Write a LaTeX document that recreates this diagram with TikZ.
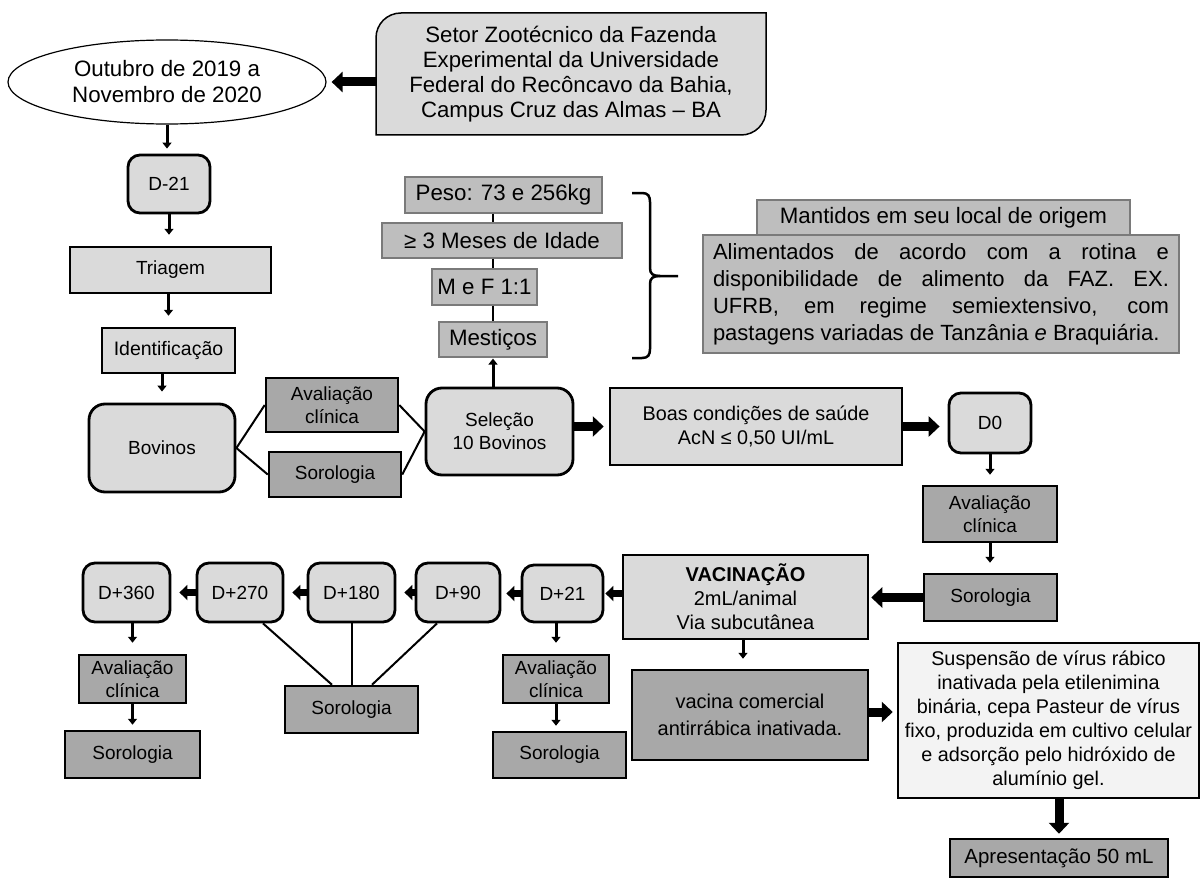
\documentclass[tikz,border=0pt]{standalone}
\usepackage{fontspec}
\setmainfont{Liberation Sans}
\usetikzlibrary{arrows.meta,shapes.geometric,calc}
\definecolor{lg}{HTML}{DADADA}
\definecolor{dg}{HTML}{A8A8A8}
\definecolor{mg}{HTML}{BEBEBE}
\definecolor{vl}{HTML}{F3F3F3}
\definecolor{gbord}{HTML}{7A7A7A}
\newcommand\fsN{\fontsize{19}{23}\selectfont}
\newcommand\fsL{\fontsize{22.3}{26}\selectfont}
\newcommand\fsXL{\fontsize{22}{27}\selectfont}
\begin{document}
\begin{tikzpicture}[x=1pt,y=-1pt,
 every node/.style={inner sep=0pt, align=center},
 bx/.style={draw=black, line width=2.5pt, font=\fsN},
 lbox/.style={bx, fill=lg},
 dbox/.style={bx, fill=dg},
 rbox/.style={bx, fill=lg, rounded corners=12pt, line width=2.8pt},
 gbox/.style={draw=gbord, line width=1.2pt, fill=mg, font=\fsL},
 thinarr/.style={line width=3pt, -{Triangle[width=9pt,length=6pt]}},
 midarr/.style={line width=7pt, -{Triangle[width=15pt,length=8pt]}},
 bigarr/.style={line width=9pt, -{Triangle[width=20pt,length=11pt]}},
 link/.style={line width=2pt},
]
\useasboundingbox (0,0) rectangle (1202,880);
\fill[white] (0,0) rectangle (1202,880);

% top
\node[ellipse, draw, line width=1.2pt, fill=white, minimum width=318pt, minimum height=84pt, font=\fsL] (ell) at (167,82) {Outubro de 2019 a\\Novembro de 2020};
\draw[line width=1.5pt, fill=lg] (376,38) .. controls (376,24) and (387,13) .. (401,13) -- (766,13) -- (766,110) .. controls (766,124) and (755,135) .. (741,135) -- (376,135) -- cycle;
\node[minimum width=390pt, minimum height=122pt, font=\fontsize{22.2}{25}\selectfont] (setor) at (571,74) {Setor Zootécnico da Fazenda\\Experimental da Universidade\\Federal do Recôncavo da Bahia,\\Campus Cruz das Almas -- BA};

% left column
\node[rbox, minimum width=82pt, minimum height=58pt] (d21) at (169,184) {D-21};
\node[lbox, minimum width=201pt, minimum height=46pt] (tri) at (170.5,270) {Triagem};
\node[lbox, font=\fontsize{19.5}{23}\selectfont, minimum width=133pt, minimum height=45pt] (ide) at (168.5,350.5) {Identificação};
\node[rbox, rounded corners=16pt, minimum width=146pt, minimum height=88pt] (bov) at (162,448) {Bovinos};
\node[dbox, minimum width=132pt, minimum height=54pt] (avA) at (332,405) {Avaliação\\clínica};
\node[dbox, minimum width=132pt, minimum height=45pt] (soA) at (335,474.5) {Sorologia};
\node[rbox, rounded corners=16pt, minimum width=147pt, minimum height=87pt] (sel) at (499.5,431.5) {Seleção\\10 Bovinos};

% stack
\node[gbox, minimum width=197pt, minimum height=36pt] (peso) at (503.5,195) {Peso: 73 e 256kg};
\node[gbox, minimum width=240pt, minimum height=35pt] (mes) at (502,240.5) {≥ 3 Meses de Idade};
\node[gbox, minimum width=105pt, minimum height=36pt] (mef) at (484.5,287) {M e F 1:1};
\node[gbox, minimum width=108pt, minimum height=35pt] (mst) at (493,339.5) {Mestiços};

% right of brace
\node[gbox, font=\fontsize{22.3}{26}\selectfont, minimum width=373pt, minimum height=35pt] (man) at (943.5,217.5) {Mantidos em seu local de origem};
\node[gbox, font=\fsXL, minimum width=476pt, minimum height=118pt, text width=456pt, align=justify] (ali) at (941,294) {Alimentados de acordo com a rotina e\linebreak disponibilidade de alimento da FAZ. EX.\linebreak UFRB, em regime semiextensivo, com\linebreak pastagens variadas de Tanzânia \textit{e} Braquiária.};

% middle row
\node[lbox, font=\fontsize{19.8}{24}\selectfont, minimum width=292pt, minimum height=77pt] (boa) at (756,426.5) {Boas condições de saúde\\AcN ≤ 0,50 UI/mL};
\node[rbox, minimum width=82pt, minimum height=60pt] (d0) at (990,423) {D0};
\node[dbox, minimum width=134pt, minimum height=56pt] (avB) at (990,514) {Avaliação\\clínica};
\node[dbox, minimum width=133pt, minimum height=47pt] (soB) at (990.5,597.5) {Sorologia};

% vaccination row
\node[lbox, font=\fontsize{20}{24}\selectfont, minimum width=245pt, minimum height=84pt] (vac) at (745.5,597) {\textbf{VACINAÇÃO}\\2mL/animal\\Via subcutânea};
\node[rbox, minimum width=81pt, minimum height=57pt] (dp21) at (562.5,593.5) {D+21};
\node[rbox, minimum width=84pt, minimum height=59pt] (dp90) at (458,592.5) {D+90};
\node[rbox, minimum width=87pt, minimum height=59pt] (dp180) at (351.5,592.5) {D+180};
\node[rbox, minimum width=86pt, minimum height=59pt] (dp270) at (240,592.5) {D+270};
\node[rbox, minimum width=87pt, minimum height=59pt] (dp360) at (126.5,592.5) {D+360};

\node[dbox, minimum width=133pt, minimum height=47pt] (soM) at (351.5,709.5) {Sorologia};
\node[dbox, minimum width=107pt, minimum height=48pt] (avC) at (132.5,679) {Avaliação\\clínica};
\node[dbox, minimum width=135pt, minimum height=47pt] (soC) at (132.5,754.5) {Sorologia};
\node[dbox, minimum width=106pt, minimum height=48pt] (avD) at (556,679) {Avaliação\\clínica};
\node[dbox, minimum width=133pt, minimum height=46pt] (soD) at (559.5,755) {Sorologia};
\node[dbox, font=\fontsize{20}{27}\selectfont, minimum width=236pt, minimum height=90pt] (vcn) at (750,715) {vacina comercial\\antirrábica inativada.};
\node[bx, fill=vl, font=\fontsize{19.8}{24}\selectfont, minimum width=301pt, minimum height=155pt] (sus) at (1048.5,720.5) {Suspensão de vírus rábico\\inativada pela etilenimina\\binária, cepa Pasteur de vírus\\fixo, produzida em cultivo celular\\e adsorção pelo hidróxido de\\alumínio gel.};
\node[dbox, font=\fontsize{20.5}{24}\selectfont, minimum width=218pt, minimum height=38pt] (apr) at (1059,858) {Apresentação 50 mL};

% connectors
\draw[bigarr, shorten >=5pt] (setor.west |- ell.east) -- (ell.east);
\draw[thinarr, shorten >=5pt] (ell.south) -- (ell.south |- d21.north);
\draw[thinarr, shorten >=11pt] (d21.south) -- (d21.south |- tri.north);
\draw[thinarr, shorten >=11pt] (tri.south -| ide.north) -- (ide.north);
\draw[thinarr, shorten >=11pt] (ide.south -| bov.north) -- (bov.north);
\draw[link] (avA.west) -- (bov.east) -- (soA.west);
\draw[link] (avA.east) -- (sel.west) -- (soA.east);
\draw[thinarr, shorten >=1pt] (sel.north -| mst.south) -- (mst.south);
\draw[link, line width=2.5pt] (peso.south -| mst.north) -- (mes.north -| mst.north);
\draw[link, line width=2.5pt] (mes.south -| mst.north) -- (mef.north -| mst.north);
\draw[link, line width=2.5pt] (mef.south -| mst.north) -- (mst.north);
\draw[line width=2.5pt] (632,193) -- (642,193) .. controls (648,193) and (650,196) .. (650,202) -- (650,268) .. controls (650,274) and (653,276) .. (660,276) -- (678,276);
\draw[line width=2.5pt] (632,358) -- (642,358) .. controls (648,358) and (650,355) .. (650,349) -- (650,284) .. controls (650,278) and (653,276) .. (660,276);
\draw[bigarr, shorten >=5pt] (sel.east |- boa.west) -- (boa.west);
\draw[bigarr, shorten >=8pt] (boa.east) -- (boa.east -| d0.west);
\draw[thinarr, shorten >=10pt] (d0.south) -- (avB.north);
\draw[thinarr, shorten >=10pt] (avB.south) -- (avB.south |- soB.north);
\draw[bigarr, shorten >=2pt] (soB.west) -- (soB.west -| vac.east);
\draw[midarr, shorten >=1pt] (vac.west |- dp21.east) -- (dp21.east);
\draw[midarr, shorten >=5pt] (dp21.west) -- (dp21.west -| dp90.east);
\draw[midarr, shorten >=8pt] (dp90.west) -- (dp180.east);
\draw[midarr, shorten >=8pt] (dp180.west) -- (dp270.east);
\draw[midarr, shorten >=8pt] (dp270.west) -- (dp360.east);
\draw[thinarr, shorten >=11pt] (dp360.south -| avC.north) -- (avC.north);
\draw[thinarr, shorten >=5pt] (avC.south) -- (soC.north);
\draw[thinarr, shorten >=11pt] (dp21.south -| avD.north) -- (avD.north);
\draw[thinarr, shorten >=5pt] (avD.south) -- (avD.south |- soD.north);
\draw[link] ($(dp270.south)+(23,0)$) -- ($(soM.north)+(-19.5,0)$);
\draw[link] (dp180.south) -- (soM.north);
\draw[link] ($(dp90.south)+(-21,0)$) -- ($(soM.north)+(20.5,0)$);
\draw[thinarr, shorten >=10pt] (vac.south -| 743,0) -- (vcn.north -| 743,0);
\draw[bigarr, shorten >=4pt] (vcn.east |- 0,712) -- (sus.west |- 0,712);
\draw[bigarr, shorten >=4pt] (sus.south -| apr.north) -- (apr.north);
\end{tikzpicture}
\end{document}
